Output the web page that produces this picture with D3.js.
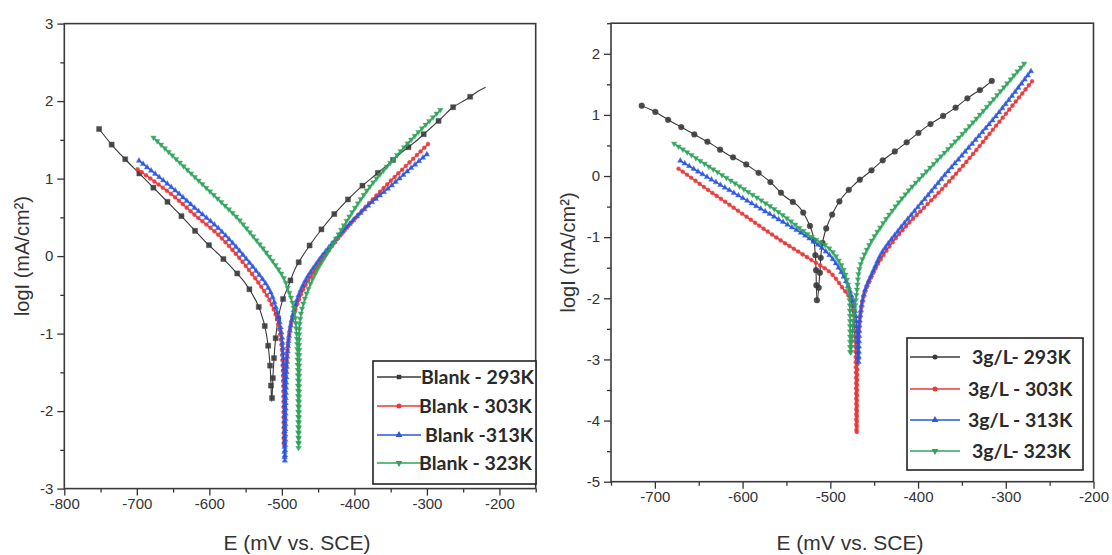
<!DOCTYPE html>
<html>
<head>
<meta charset="utf-8">
<script src="https://cdn.jsdelivr.net/npm/d3@7"></script>
<style>
  body { margin: 0; background: #fff; }
  svg { display: block; }
  .tick text { font-family: "Liberation Sans", Arial, sans-serif; font-size: 15px; fill: #333; }
</style>
</head>
<body>
<div id="chart"></div>
<script>
// Blank (left panel) – [E mV, log i]
const blank293 = [[-752,1.64],[-733,1.42],[-715,1.24],[-698,1.08],[-680,0.91],[-662,0.74],[-643,0.56],[-626,0.39],[-607,0.20],[-589,0.04],[-571,-0.13],[-552,-0.33],[-535,-0.59],[-525,-0.85],[-519,-1.15],[-516,-1.45],[-514,-1.88],[-512,-1.5],[-509,-1.1],[-505,-0.8],[-500,-0.6],[-490,-0.36],[-481,-0.15],[-463,0.12],[-445,0.35],[-427,0.55],[-409,0.73],[-390,0.90],[-372,1.04],[-354,1.18],[-336,1.33],[-318,1.46],[-300,1.61],[-281,1.77],[-264,1.92],[-246,2.02],[-229,2.13],[-219,2.18]];
const blank303 = [[-699,1.12],[-650,0.78],[-620,0.53],[-585,0.25],[-540,-0.245],[-517,-0.57],[-507,-0.8],[-501,-1.1],[-498,-1.6],[-497,-2.45],[-495,-1.6],[-491,-1.1],[-486,-0.82],[-478,-0.6],[-470,-0.42],[-460,-0.26],[-445,-0.05],[-430,0.14],[-410,0.37],[-380,0.68],[-350,0.97],[-325,1.2],[-298,1.45]];
const blank313 = [[-697,1.23],[-650,0.87],[-620,0.62],[-585,0.335],[-540,-0.14],[-517,-0.44],[-505,-0.78],[-500,-1.04],[-497,-1.6],[-496,-2.65],[-494,-1.6],[-491,-1.1],[-487,-0.85],[-482,-0.65],[-475,-0.46],[-466,-0.29],[-448,-0.04],[-430,0.17],[-406,0.42],[-380,0.66],[-350,0.90],[-325,1.11],[-298,1.33]];
const blank323 = [[-677,1.53],[-650,1.29],[-620,1.02],[-585,0.71],[-562,0.50],[-540,0.26],[-517,-0.01],[-498,-0.27],[-491,-0.44],[-484,-0.65],[-480,-0.95],[-478,-1.5],[-477,-2.48],[-476,-1.5],[-475,-0.83],[-470,-0.6],[-462,-0.39],[-452,-0.19],[-440,0.0],[-425,0.23],[-409,0.48],[-380,0.88],[-350,1.21],[-320,1.52],[-280,1.90]];

// 3 g/L (right panel)
const inh293 = [[-715,1.15],[-699,1.045],[-682,0.895],[-666,0.77],[-650,0.64],[-634,0.51],[-618,0.36],[-601,0.235],[-585,0.085],[-569,-0.09],[-552,-0.33],[-536,-0.5],[-527,-0.7],[-520,-0.95],[-517,-1.3],[-515,-2.05],[-512,-1.6],[-510,-1.2],[-505,-0.87],[-488,-0.38],[-472,-0.13],[-455,0.07],[-440,0.26],[-423,0.44],[-407,0.62],[-391,0.80],[-375,0.95],[-358,1.11],[-342,1.29],[-324,1.46],[-314,1.58]];
const inh303 = [[-673,0.12],[-640,-0.22],[-600,-0.62],[-560,-1.02],[-523,-1.36],[-500,-1.58],[-485,-1.85],[-477,-2.02],[-472,-2.6],[-470,-4.21],[-468,-2.6],[-462,-1.96],[-456,-1.74],[-447,-1.47],[-432,-1.14],[-413,-0.81],[-394,-0.53],[-375,-0.25],[-348,0.18],[-310,0.84],[-270,1.55]];
const inh313 = [[-671,0.25],[-640,-0.02],[-600,-0.36],[-560,-0.70],[-523,-1.03],[-500,-1.31],[-485,-1.64],[-477,-1.91],[-471,-2.29],[-468,-3.05],[-466,-2.29],[-460,-1.85],[-452,-1.58],[-441,-1.25],[-424,-0.92],[-405,-0.59],[-386,-0.27],[-371,-0.01],[-348,0.37],[-310,1.0],[-271,1.72]];
const inh323 = [[-678,0.53],[-640,0.17],[-600,-0.2],[-560,-0.58],[-523,-0.98],[-500,-1.2],[-485,-1.53],[-479,-1.85],[-477,-2.92],[-474,-2.4],[-470,-1.91],[-466,-1.47],[-456,-1.14],[-443,-0.84],[-428,-0.54],[-409,-0.21],[-386,0.14],[-348,0.71],[-310,1.32],[-279,1.84]];

const blankNames = ["Blank - 293K", "Blank - 303K", "Blank -313K", "Blank - 323K"];
const inhNames = ["3g/L- 293K", "3g/L - 303K", "3g/L - 313K", "3g/L- 323K"];
const colors = ["#3a3a3a", "#e8383a", "#2a56e0", "#2ea45a"];

const leftXTicks = [-800, -700, -600, -500, -400, -300, -200];
const leftYTicks = [-3, -2, -1, 0, 1, 2, 3];
const rightXTicks = [-700, -600, -500, -400, -300, -200];
const rightYTicks = [-5, -4, -3, -2, -1, 0, 1, 2];

const svg = d3.select("#chart").append("svg").attr("width", 1112).attr("height", 555);

const panels = [
  {
    series: [blank293, blank303, blank313, blank323], names: blankNames,
    xDom: [-800, -150], xRange: [64.3, 535.7], yDom: [-3, 3], yRange: [488.6, 23.6],
    xTicks: leftXTicks, yTicks: leftYTicks, xMinorStep: 50, yMinorStep: 0.5,
    symbols: [d3.symbolSquare, d3.symbolCircle, d3.symbolTriangle, "down"],
    blackGap: 20, ylabX: 22, xlabX: 297,
    legend: { x: 373, y: 361, w: 163, h: 123, rows: [377, 406, 435, 463], l1: 377, l2: 421, tx: [421, 419, 425, 419] }
  },
  {
    series: [inh293, inh303, inh313, inh323], names: inhNames,
    xDom: [-750, -200], xRange: [611, 1093.5], yDom: [-5, 2.5], yRange: [481.7, 23.2],
    xTicks: rightXTicks, yTicks: rightYTicks, xMinorStep: 50, yMinorStep: 0.5,
    symbols: [d3.symbolCircle, d3.symbolCircle, d3.symbolTriangle, "down"],
    blackGap: 15, ylabX: 568, xlabX: 850,
    legend: { x: 907, y: 338, w: 176, h: 132, rows: [357, 389, 420, 451], l1: 910, l2: 960, tx: [972, 968, 968, 972] }
  }
];

panels.forEach(p => {
  const x = d3.scaleLinear().domain(p.xDom).range(p.xRange);
  const y = d3.scaleLinear().domain(p.yDom).range(p.yRange);
  const g = svg.append("g");
  const [x0, x1] = p.xRange, [y1, y0] = p.yRange;

  // minor ticks
  const xMinor = d3.range(p.xDom[0], p.xDom[1] + 1, p.xMinorStep).filter(v => !p.xTicks.includes(v));
  const yMinor = d3.range(p.yDom[0], p.yDom[1] + 0.01, p.yMinorStep).filter(v => !p.yTicks.includes(v));
  g.append("g").attr("transform", `translate(0,${y1})`)
    .call(d3.axisBottom(x).tickValues(xMinor).tickSize(4).tickFormat(""))
    .call(a => a.select(".domain").remove())
    .selectAll("line").attr("stroke", "#333").attr("stroke-width", 1.3);
  g.append("g").attr("transform", `translate(${x0},0)`)
    .call(d3.axisLeft(y).tickValues(yMinor).tickSize(4).tickFormat(""))
    .call(a => a.select(".domain").remove())
    .selectAll("line").attr("stroke", "#333").attr("stroke-width", 1.3);

  // major ticks
  g.append("g").attr("transform", `translate(0,${y1})`)
    .call(d3.axisBottom(x).tickValues(p.xTicks).tickSize(7).tickPadding(3).tickFormat(d3.format("d")))
    .call(a => a.select(".domain").remove())
    .call(a => a.selectAll("line").attr("stroke", "#333").attr("stroke-width", 1.3));
  g.append("g").attr("transform", `translate(${x0},0)`)
    .call(d3.axisLeft(y).tickValues(p.yTicks).tickSize(7).tickPadding(4).tickFormat(d3.format("d")))
    .call(a => a.select(".domain").remove())
    .call(a => a.selectAll("line").attr("stroke", "#333").attr("stroke-width", 1.3));
  g.selectAll(".tick text").text(function () { return this.textContent.replace("−", "-"); });

  // frame
  g.append("rect").attr("x", x0).attr("y", y0).attr("width", x1 - x0).attr("height", y1 - y0)
    .attr("fill", "none").attr("stroke", "#3a3a3a").attr("stroke-width", 1.6);

  // curves
  const line = d3.line().x(d => x(d[0])).y(d => y(d[1])).curve(d3.curveCatmullRom.alpha(0.5));
  p.series.forEach((s, i) => {
    const path = g.append("path").datum(s).attr("d", line)
      .attr("fill", "none").attr("stroke", colors[i]).attr("stroke-width", i === 0 ? 1.1 : 1.3);
    const node = path.node(), len = node.getTotalLength();
    const gap = i === 0 ? p.blackGap : 5.2;
    const pts = d3.range(0, len + 0.1, gap).map(l => node.getPointAtLength(l));
    const sym = p.symbols[i];
    const shape = sym === "down" ? d3.symbolTriangle : sym;
    g.append("g").selectAll("path").data(pts).join("path")
      .attr("d", d3.symbol().type(shape).size(i === 0 ? 26 : 13))
      .attr("transform", d => `translate(${d.x},${d.y})` + (sym === "down" ? " rotate(180)" : ""))
      .attr("fill", colors[i]).attr("stroke", colors[i]).attr("stroke-width", 0.4).attr("opacity", 0.9);
  });

  // axis titles
  g.append("text").attr("x", p.xlabX).attr("y", 550).attr("text-anchor", "middle")
    .attr("font-family", "Liberation Sans, Arial, sans-serif").attr("font-size", 21).attr("fill", "#333")
    .text("E (mV vs. SCE)");
  g.append("text").attr("transform", `translate(${p.ylabX},${(y0 + y1) / 2}) rotate(-90)`)
    .attr("text-anchor", "middle").attr("dy", "0.35em")
    .attr("font-family", "Liberation Sans, Arial, sans-serif").attr("font-size", 20).attr("fill", "#333")
    .text("logI (mA/cm²)");

  // legend
  const L = p.legend;
  g.append("rect").attr("x", L.x).attr("y", L.y).attr("width", L.w).attr("height", L.h)
    .attr("fill", "#fff").attr("stroke", "#222").attr("stroke-width", 1.6);
  p.names.forEach((n, i) => {
    const ry = L.rows[i];
    g.append("line").attr("x1", L.l1).attr("x2", L.l2).attr("y1", ry).attr("y2", ry)
      .attr("stroke", colors[i]).attr("stroke-width", 1.3);
    const sym = p.symbols[i];
    g.append("path").attr("d", d3.symbol().type(sym === "down" ? d3.symbolTriangle : sym).size(20))
      .attr("transform", `translate(${(L.l1 + L.l2) / 2},${ry})` + (sym === "down" ? " rotate(180)" : ""))
      .attr("fill", colors[i]);
    g.append("text").attr("x", L.tx[i]).attr("y", ry).attr("dy", "0.36em")
      .attr("font-family", "Lato, 'Open Sans', sans-serif").attr("font-weight", 700)
      .attr("font-size", 19.5).attr("fill", "#2a2a2a").text(n);
  });
});
</script>
</body>
</html>
